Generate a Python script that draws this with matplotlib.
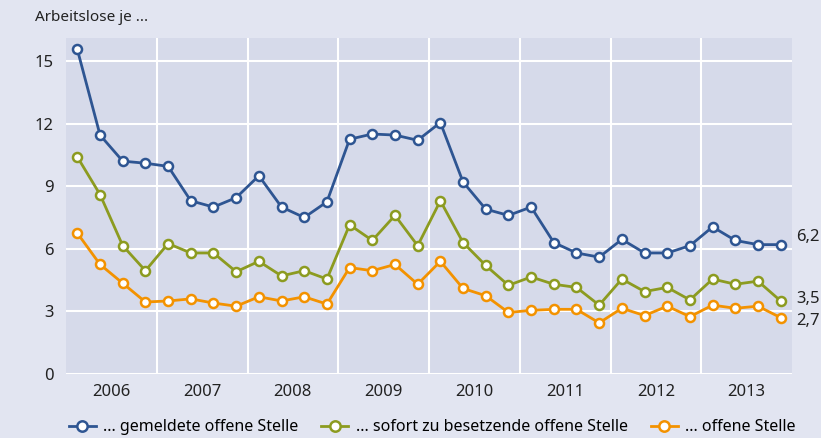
import matplotlib
matplotlib.use("Agg")
import matplotlib.pyplot as plt
from matplotlib.ticker import FixedLocator, NullFormatter

plt.rcParams['font.family'] = ['Noto Sans', 'DejaVu Sans']

# quarterly values 2006-2013 (Arbeitslose je ...)
years = [2006, 2007, 2008, 2009, 2010, 2011, 2012, 2013]
quarter_pos = [0.125, 0.375, 0.625, 0.875]

gemeldete = [15.55, 11.45, 10.2, 10.1, 9.95, 8.3, 8.0, 8.45,
             9.5, 8.0, 7.5, 8.25, 11.25, 11.5, 11.45, 11.2,
             12.05, 9.2, 7.9, 7.6, 8.0, 6.3, 5.8, 5.6,
             6.45, 5.8, 5.8, 6.15, 7.05, 6.4, 6.2, 6.2]
sofort = [10.4, 8.6, 6.15, 4.95, 6.25, 5.8, 5.8, 4.9,
          5.4, 4.7, 4.95, 4.55, 7.15, 6.4, 7.6, 6.15,
          8.3, 6.3, 5.2, 4.25, 4.65, 4.3, 4.15, 3.3,
          4.55, 3.95, 4.15, 3.55, 4.55, 4.3, 4.45, 3.5]
offene = [6.75, 5.25, 4.35, 3.45, 3.5, 3.6, 3.4, 3.25,
          3.7, 3.5, 3.7, 3.35, 5.1, 4.95, 5.25, 4.3,
          5.4, 4.1, 3.75, 2.95, 3.05, 3.1, 3.1, 2.45,
          3.15, 2.8, 3.25, 2.75, 3.3, 3.15, 3.25, 2.7]

labels = ["... gemeldete offene Stelle",
          "... sofort zu besetzende offene Stelle",
          "... offene Stelle"]
colors = ["#2e5592", "#8c9b20", "#f39200"]
end_labels = ["6,2", "3,5", "2,7"]
end_label_y = [6.55, 3.6, 2.55]

x = [y + q for y in years for q in quarter_pos]

fig = plt.figure(figsize=(8.21, 4.38), dpi=100, facecolor="#e2e5f1")
ax = fig.add_axes([0.0804, 0.1461, 0.8843, 0.7671])
ax.set_facecolor("#d6daea")

series = [gemeldete, sofort, offene]
for vals, col, lab in zip(series, colors, labels):
    ax.plot(x, vals, color=col, lw=2.0, marker="o", ms=6.5,
            mfc="white", mec=col, mew=1.8, label=lab, zorder=3)

for txt, ty in zip(end_labels, end_label_y):
    ax.text(years[-1] + 1.05, ty, txt, fontsize=12, color="#222222",
            va="center", ha="left", clip_on=False)

ax.set_xlim(years[0], years[-1] + 1)
ax.set_ylim(0, 16.1)
ax.set_yticks([0, 3, 6, 9, 12, 15])
ax.set_xticks([y + 0.5 for y in years])
ax.set_xticklabels([str(y) for y in years])
ax.xaxis.set_minor_locator(FixedLocator(years[1:]))
ax.xaxis.set_minor_formatter(NullFormatter())

ax.grid(axis="y", which="major", color="white", lw=1.5, zorder=1)
ax.grid(axis="x", which="minor", color="white", lw=1.5, zorder=1)
ax.tick_params(axis="both", which="both", length=0, labelsize=12,
               colors="#222222")
ax.tick_params(axis="y", pad=9)
ax.tick_params(axis="x", pad=7)
for s in ax.spines.values():
    s.set_visible(False)

fig.text(0.043, 0.96, "Arbeitslose je ...", fontsize=11, color="#222222",
         va="center", ha="left")

fig.legend(loc="lower left", bbox_to_anchor=(0.066, -0.027), ncol=3,
           frameon=False, fontsize=11.5, handlelength=1.7,
           columnspacing=1.45, handletextpad=0.45, markerscale=1.15)

fig.savefig("out.png", dpi=100, facecolor=fig.get_facecolor())
